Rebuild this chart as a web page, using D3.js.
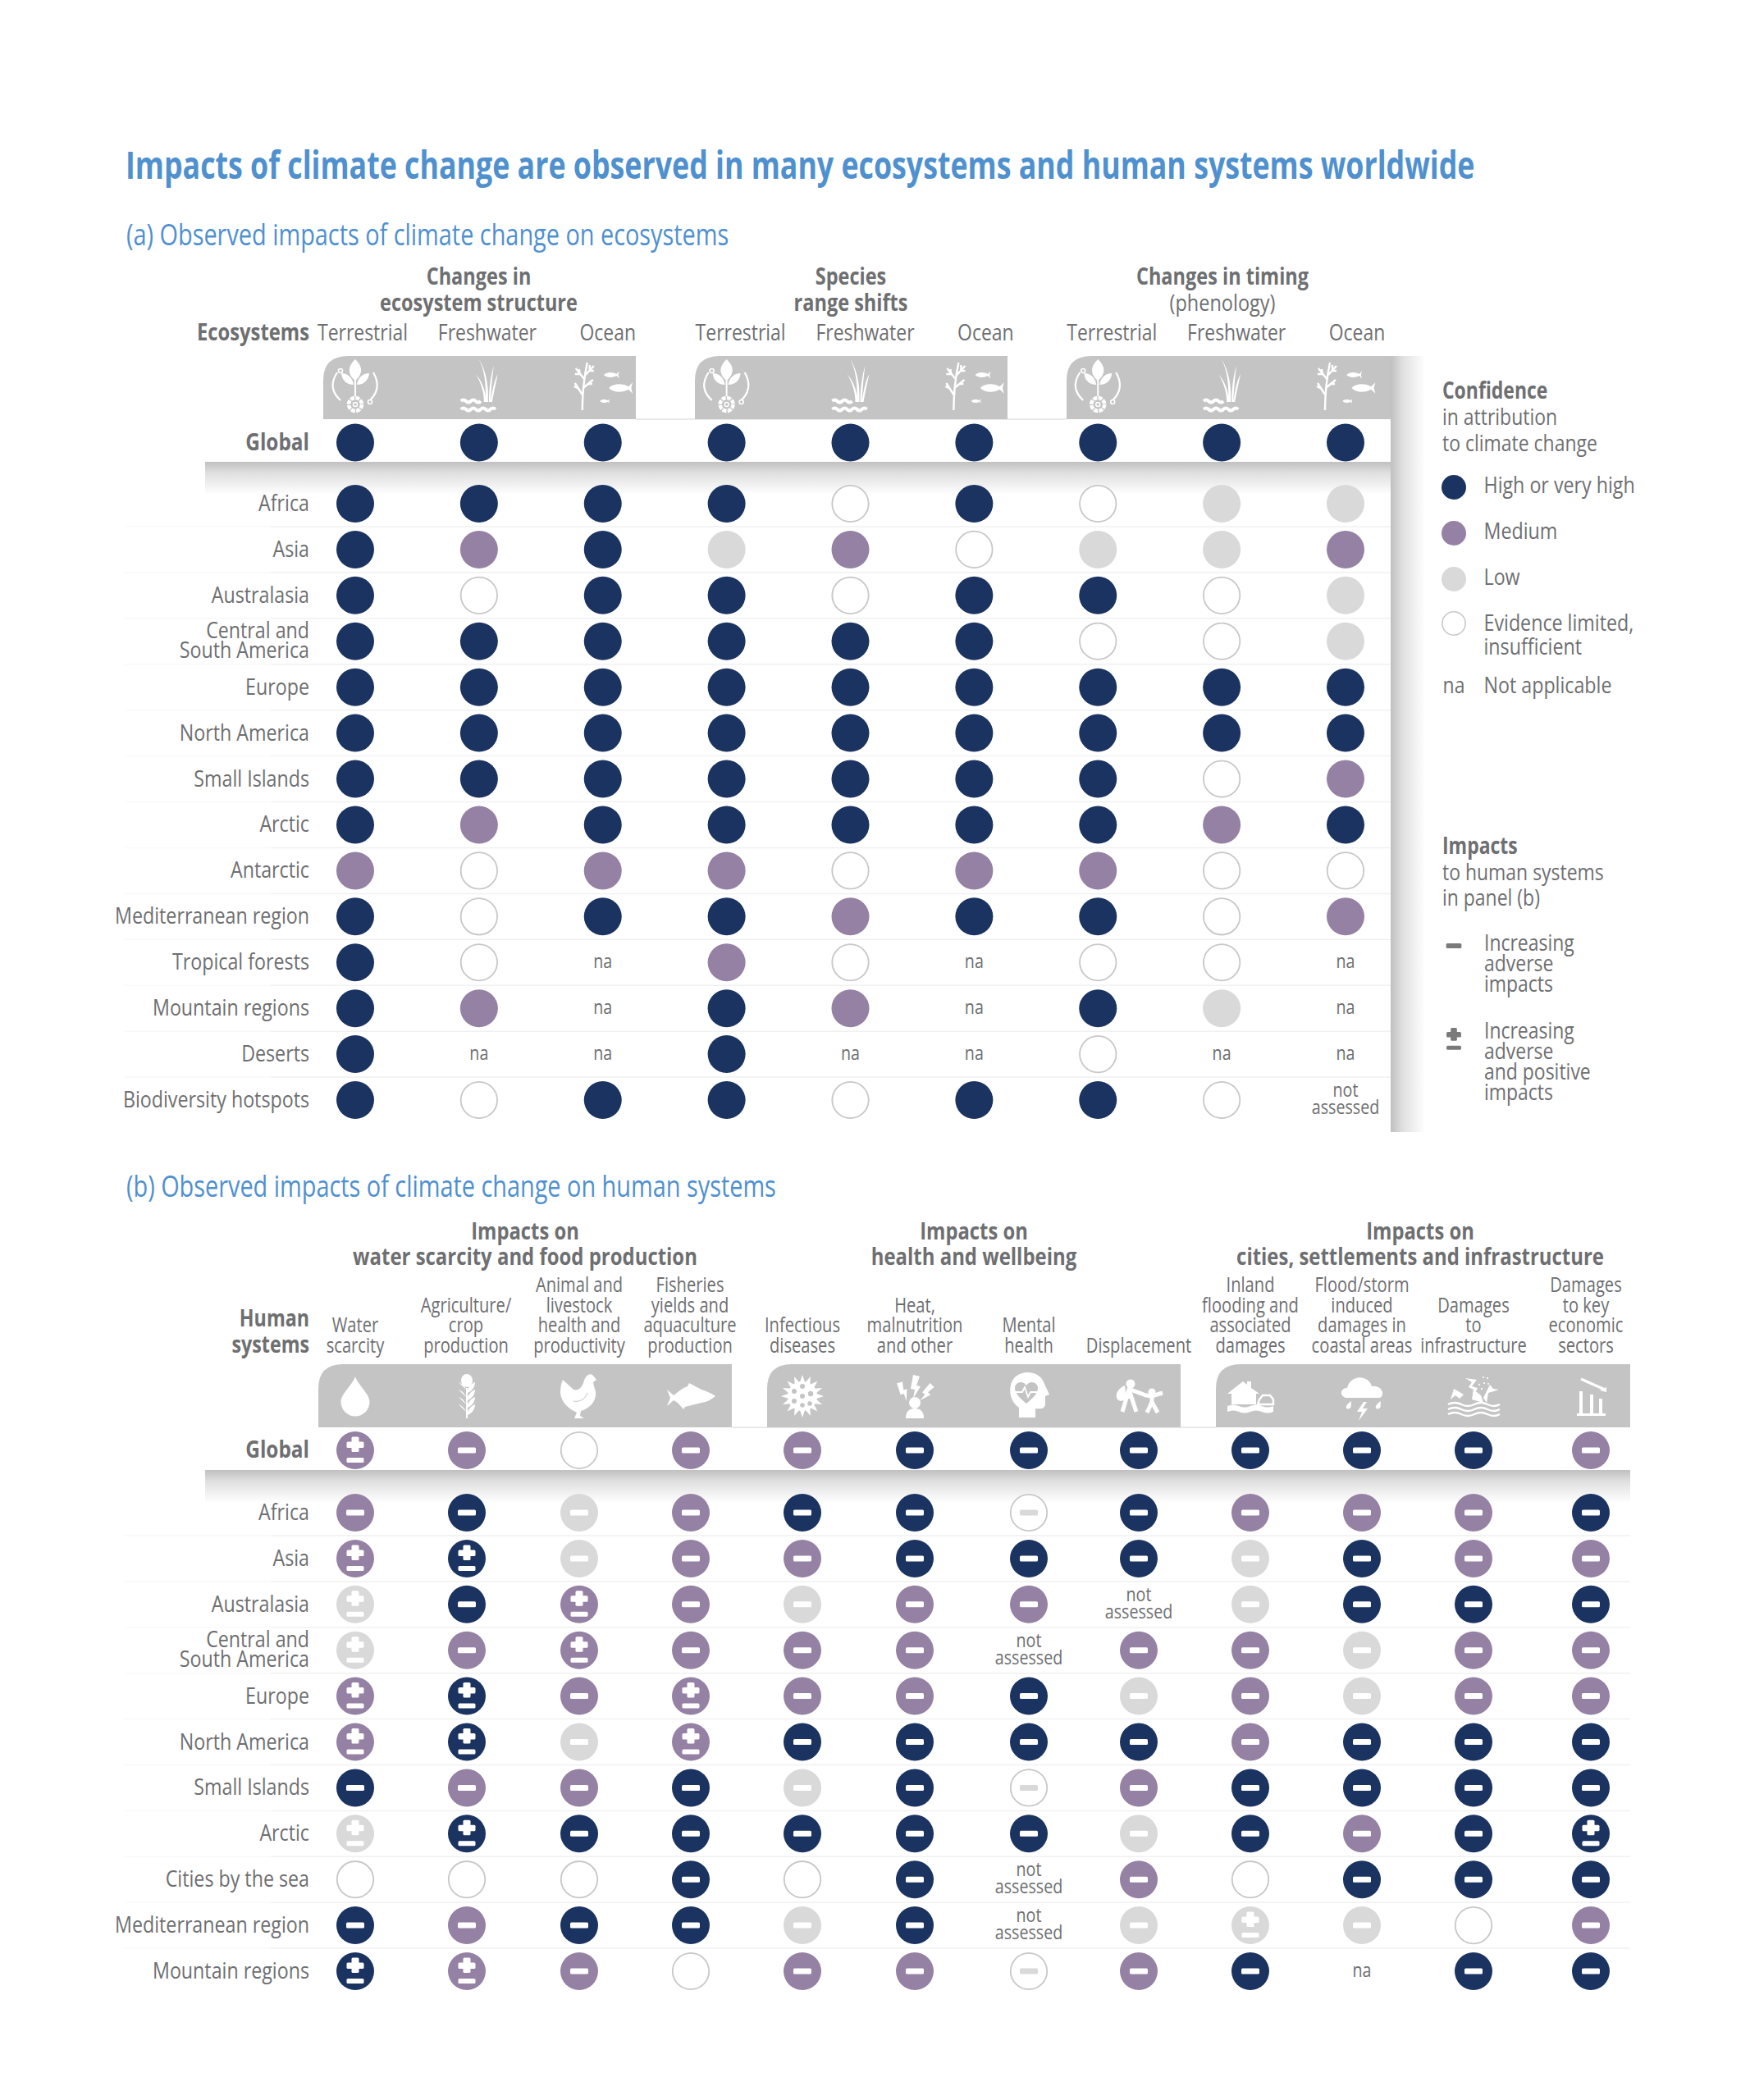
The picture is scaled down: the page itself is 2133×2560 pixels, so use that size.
<!DOCTYPE html>
<html><head><meta charset="utf-8">
<script src="https://cdn.jsdelivr.net/npm/d3@7"></script>
<style>html,body{margin:0;padding:0;background:#fff}svg{display:block}</style></head>
<body><div id="chart"></div>
<script>
// ---- DATA ----
const ecoRows=["Africa","Asia","Australasia","Central and|South America","Europe","North America","Small Islands","Arctic","Antarctic","Mediterranean region","Tropical forests","Mountain regions","Deserts","Biodiversity hotspots"];
const ecoCols=["Terrestrial","Freshwater","Ocean","Terrestrial ","Freshwater ","Ocean ","Terrestrial  ","Freshwater  ","Ocean  "];
const ecoGlobal=["H","H","H","H","H","H","H","H","H"];
const ecoValues=[
["H","H","H","H","E","H","E","L","L"],
["H","M","H","L","M","E","L","L","M"],
["H","E","H","H","E","H","H","E","L"],
["H","H","H","H","H","H","E","E","L"],
["H","H","H","H","H","H","H","H","H"],
["H","H","H","H","H","H","H","H","H"],
["H","H","H","H","H","H","H","E","M"],
["H","M","H","H","H","H","H","M","H"],
["M","E","M","M","E","M","M","E","E"],
["H","E","H","H","M","H","H","E","M"],
["H","E","na","M","E","na","E","E","na"],
["H","M","na","H","M","na","H","L","na"],
["H","na","na","H","na","na","E","na","na"],
["H","E","H","H","E","H","H","E","ns"]];
const humRows=["Africa","Asia","Australasia","Central and|South America","Europe","North America","Small Islands","Arctic","Cities by the sea","Mediterranean region","Mountain regions"];
const humCols=["Water|scarcity","Agriculture/|crop|production","Animal and|livestock|health and|productivity","Fisheries|yields and|aquaculture|production","Infectious|diseases","Heat,|malnutrition|and other","Mental|health","Displacement","Inland|flooding and|associated|damages","Flood/storm|induced|damages in|coastal areas","Damages|to|infrastructure","Damages|to key|economic|sectors"];
const humGlobal=["M+","M-","E","M-","M-","H-","H-","H-","H-","H-","H-","M-"];
const humValues=[
["M-","H-","L-","M-","H-","H-","E-","H-","M-","M-","M-","H-"],
["M+","H+","L-","M-","M-","H-","H-","H-","L-","H-","M-","M-"],
["L+","H-","M+","M-","L-","M-","M-","ns","L-","H-","H-","H-"],
["L+","M-","M+","M-","M-","M-","ns","M-","M-","L-","M-","M-"],
["M+","H+","M-","M+","M-","M-","H-","L-","M-","L-","M-","M-"],
["M+","H+","L-","M+","H-","H-","H-","H-","M-","H-","H-","H-"],
["H-","M-","M-","H-","L-","H-","E-","M-","H-","H-","H-","H-"],
["L+","H+","H-","H-","H-","H-","H-","L-","H-","M-","H-","H+"],
["E","E","E","H-","E","H-","ns","M-","E","H-","H-","H-"],
["H-","M-","H-","H-","L-","H-","ns","L-","L+","L-","E","M-"],
["H+","M+","M-","E","M-","M-","E-","M-","H-","na","H-","H-"]];
const legendConfidence=[["H","High or very high"],["M","Medium"],["L","Low"],["E","Evidence limited,|insufficient"]];

// ---- STYLE ----
const NAVY="#1b3360",PURPLE="#9581a4",LOW="#d9d9d9",BAND="#c4c4c4",TXT="#6e6f71",BLUE="#4f90cf";
const fillOf={H:NAVY,M:PURPLE,L:LOW,E:"#fff"};
const SX=0.82;
const W=2133,H=2560;
const svg=d3.select("#chart").append("svg").attr("width",W).attr("height",H).attr("viewBox",`0 0 ${W} ${H}`);
svg.append("rect").attr("width",W).attr("height",H).attr("fill","#fff");
const defs=svg.append("defs");
function grad(id,x2,y2){const g=defs.append("linearGradient").attr("id",id).attr("x1",0).attr("y1",0).attr("x2",x2).attr("y2",y2);
 g.append("stop").attr("offset",0).attr("stop-color","#c0c0c0");g.append("stop").attr("offset",0.35).attr("stop-color","#e0e0e0");g.append("stop").attr("offset",1).attr("stop-color","#fff");}
grad("sh",0,1);grad("sv",1,0);

function T(str,x,y,o={}){
 return svg.append("text").text(str).attr("transform",`translate(${x},${y}) scale(${o.sx||SX},1)`)
  .attr("text-anchor",o.a||"start").attr("font-family","'Open Sans','Noto Sans',sans-serif")
  .attr("font-size",o.s||28).attr("font-weight",o.b?700:400).attr("fill",o.f||TXT);
}
function ML(str,x,y,lh,o={}){str.split("|").forEach((s,i)=>T(s,x,y+i*lh,o));}

// ---- HEADINGS ----
T("Impacts of climate change are observed in many ecosystems and human systems worldwide",153,218,{s:46,b:1,f:BLUE,sx:0.777});
T("(a) Observed impacts of climate change on ecosystems",154,299,{s:37,f:BLUE,sx:0.78});
T("(b) Observed impacts of climate change on human systems",154,1459,{s:37,f:BLUE,sx:0.78});

// ---- SCALES ----
const xEco=d3.scalePoint().domain(d3.range(9)).range([433,1640]);
const yEco=d3.scalePoint().domain(ecoRows).range([614,1341]);
const xHum=d3.scaleOrdinal().domain(d3.range(12)).range([433,569,706,842,978,1115,1254,1388,1524,1660,1796,1939]);
const yHum=d3.scalePoint().domain(humRows).range([1844,2403]);
const Y_GLOBAL_A=539.5,Y_GLOBAL_B=1768,R=23;

// ---- BACKGROUND BANDS ----
function band(x0,x1,y0,y1,r){
 svg.append("path").attr("fill",BAND)
  .attr("d",`M${x0},${y1}V${y0+r}Q${x0},${y0} ${x0+r},${y0}H${x1}V${y1}Z`);
}
svg.append("rect").attr("x",1695).attr("y",434).attr("width",42).attr("height",946).attr("fill","url(#sv)");
svg.append("rect").attr("x",250).attr("y",563).attr("width",1445).attr("height",40).attr("fill","url(#sh)");
svg.append("rect").attr("x",775).attr("y",510).attr("width",525).attr("height",2).attr("fill","#e9e9e9");
[[394,775],[847,1228],[1300,1695]].forEach(b=>band(b[0],b[1],434,511,30));
svg.append("rect").attr("x",250).attr("y",1792).attr("width",1737).attr("height",40).attr("fill","url(#sh)");
svg.append("rect").attr("x",892).attr("y",1739).attr("width",590).attr("height",2).attr("fill","#e9e9e9");
[[388,892],[935,1439],[1482,1987]].forEach(b=>band(b[0],b[1],1663,1740,30));

// row rules: very faint at the far left, slightly stronger across the grid
function rules(rows,y,x1){
 const g=svg.append("g");
 g.selectAll(".l").data(rows.slice(0,-1)).join("line")
  .attr("x1",152).attr("x2",330).attr("y1",d=>y(d)+28).attr("y2",d=>y(d)+28)
  .attr("stroke","#f9f9f9").attr("stroke-width",1.5);
 g.selectAll(".r").data(rows.slice(0,-1)).join("line")
  .attr("x1",330).attr("x2",x1).attr("y1",d=>y(d)+28).attr("y2",d=>y(d)+28)
  .attr("stroke","#f1f1f1").attr("stroke-width",1.5);
}
rules(ecoRows,yEco,1695);rules(humRows,yHum,1987);

// ---- HEADER TEXT ----
const ecoGroups=[[583.5,"Changes in","ecosystem structure",1],[1037,"Species","range shifts",1],[1490,"Changes in timing","(phenology)",0]];
ecoGroups.forEach(g=>{T(g[1],g[0],347,{a:"middle",b:1,sx:.84});T(g[2],g[0],379,{a:"middle",b:g[3],sx:.84});});
const ecoLabelOffset=[9,10,6,17,18,14,17,18,14];
ecoCols.forEach((c,i)=>T(c.trim(),xEco(i)+ecoLabelOffset[i],415,{a:"middle"}));
T("Ecosystems",377,415,{a:"end",b:1,sx:.85});

const humGroups=[[640,"Impacts on","water scarcity and food production"],[1187,"Impacts on","health and wellbeing"],[1731,"Impacts on","cities, settlements and infrastructure"]];
humGroups.forEach(g=>{T(g[1],g[0],1518-7,{a:"middle",b:1,sx:.85});T(g[2],g[0],1550-8,{a:"middle",b:1,sx:.855});});
const humLabelOffset=[0,-1,0,-1,0,0,0,0,0,0,0,-6];
humCols.forEach((c,i)=>{const p=c.split("|");p.forEach((s,k)=>T(s,xHum(i)+humLabelOffset[i],1649-(p.length-1-k)*24.7,{a:"middle",s:26,sx:.775}));});
ML("Human|systems",377,1617,32,{a:"end",b:1,sx:.83});

// ---- ICONS ----
const ICON={
plant(g){
 g.append("path").attr("d","M0,-33C-10,-24 -9,-14 0,-7C9,-14 10,-24 0,-33Z M-17,-16C-16,-6 -9,-2 -2,-2C-3,-10 -9,-16 -17,-16Z M17,-16C16,-6 9,-2 2,-2C3,-10 9,-16 17,-16Z").attr("fill","#fff");
 g.append("path").attr("d","M0,-24V12").attr("stroke","#fff").attr("stroke-width",2).attr("fill","none");
 g.append("circle").attr("cx",0).attr("cy",22).attr("r",8).attr("fill","none").attr("stroke","#fff").attr("stroke-width",4.5).attr("stroke-dasharray","5 1.3");
 g.append("circle").attr("cx",0).attr("cy",22).attr("r",2.5).attr("fill","none").attr("stroke","#fff").attr("stroke-width",1.5);
 g.append("path").attr("d","M-22,-17C-30,-5 -30,6 -18,17 M22,-17C29,-5 29,6 18,17").attr("stroke","#fff").attr("stroke-width",2.2).attr("fill","none");
 g.selectAll(".e").data([[-18,-19],[18,19]]).join("circle").attr("cx",d=>d[0]).attr("cy",d=>d[1]).attr("r",2.5).attr("fill",BAND).attr("stroke","#fff").attr("stroke-width",1.6);
},
reed(g){
 g.append("path").attr("d","M8,19C9,-6 6,-20 0,-33C7,-21 12,-6 11,19Z M6,19C6,6 2,-5 -4,-15C3,-7 8,4 9,19Z M12,19C12,4 14,-13 18,-25C16,-12 15,4 14,19Z M14,19C16,6 18,-6 23,-15C21,-6 18,8 16,19Z").attr("fill","#fff");
 g.append("path").attr("d","M-22,18q3,-3 6,0t6,0t6,0t6,0 M-22,28q3,-3 6,0t6,0t6,0t6,0t6,0t6,0t6,0").attr("stroke","#fff").attr("stroke-width",4).attr("fill","none");
},
ocean(g){
 g.append("path").attr("d","M-25,29C-25,10 -24,-5 -19,-29 M-25,10L-34,-4 M-29,3L-35,0 M-24,2L-12,-8 M-18,-3L-13,-3 M-22,-8L-33,-22 M-27,-15L-34,-15 M-28,-15L-29,-21 M-21,-14L-11,-25 M-16,-19L-11,-19 M-16,-20L-16,-26").attr("stroke","#fff").attr("stroke-width",2.4).attr("fill","none");
 fish(g,10,-14,.55);fish(g,21,2,.85);fish(g,2,18,.35);
},
drop(g){g.append("path").attr("d","M0,-24C3,-14 17.5,-3 17.5,7A17.5,17.5 0 1 1 -17.5,7C-17.5,-3 -3,-14 0,-24Z").attr("fill","#fff");},
wheat(g){
 const leaf=(x,y,s)=>g.append("path").attr("d",`M${x},${y}c${s*2},-5 ${s*6},-8 ${s*9},-9c0,6 -${s*4},11 -${s*9},13Z`).attr("fill","#fff");
 g.append("ellipse").attr("cx",0).attr("cy",-19).attr("rx",7).attr("ry",8).attr("fill","#fff");
 [-8,1,10,19].forEach(y=>{leaf(-1,y,-1);leaf(1,y,1);});
 g.append("path").attr("d","M0,-10V27").attr("stroke","#fff").attr("stroke-width",2);
},
hen(g){
 g.append("path").attr("d","M-20,-20L-7,-8C0,-6 4,-12 6,-19C8,-26 14,-29 17,-25L21,-20L17,-17C18,-10 21,-6 20,-1C19,8 12,15 2,18L1,24L6,27H-6L-3,20C-12,16 -22,8 -23,-4C-23,-10 -22,-16 -20,-20Z").attr("fill","#fff");
 g.append("path").attr("d","M-7,6C0,8 8,3 10,-4").attr("stroke",BAND).attr("stroke-width",1).attr("fill","none");
},
fishBig(g){
 g.append("path").attr("d","M-29,-8L-21,-1C-15,-6 -10,-10 -4,-12L-2,-16L13,-8C20,-6 26,-3 30,0C25,4 20,7 13,8L-7,13L-9,16L-16,8L-21,5L-29,12L-25,2Z").attr("fill","#fff");
},
virus(g){
 const n=16;
 g.selectAll(".s").data(d3.range(n)).join("path").attr("fill","#fff")
  .attr("d",d=>{const a=d*2*Math.PI/n;const c=Math.cos(a),s=Math.sin(a);const r=17;
   return `M${r*c-3*s},${r*s+3*c}L${26*c},${26*s}L${r*c+3*s},${r*s-3*c}Z`;});
 g.append("circle").attr("r",18).attr("fill","#fff");
 g.selectAll(".h").data([[0,0,3],[0,-12,3],[10,-3,3.2],[-10,-6,3],[-10,6,3],[0,11,2.8],[9,9,2.8]]).join("circle")
  .attr("cx",d=>d[0]).attr("cy",d=>d[1]).attr("r",d=>d[2]).attr("fill",BAND);
},
heat(g){
 g.append("circle").attr("cy",8).attr("r",7).attr("fill","#fff");
 g.append("path").attr("d","M-11,27Q-11,15 0,15Q11,15 11,27Z").attr("fill","#fff");
 const b="M-2,-26L6,-24L2,-13L7,-12L-2,3L0,-8L-5,-9Z";
 g.append("path").attr("d",b).attr("fill","#fff");
 g.append("path").attr("d",b).attr("fill","#fff").attr("transform","translate(-10,3) rotate(-28) scale(.85)");
 g.append("path").attr("d",b).attr("fill","#fff").attr("transform","translate(9,4) rotate(30) scale(.85)");
},
head(g){
 g.append("path").attr("d","M-12,26L-12,14C-24,6 -26,-12 -18,-22C-8,-33 14,-31 19,-15L25,-2L20,0L20,10C20,15 14,16 8,15L8,26Z").attr("fill","#fff");
 g.append("path").attr("d","M-3,9C-10,3 -17,-3 -17,-10C-17,-17 -7,-20 -3,-13C1,-20 11,-17 11,-10C11,-3 4,3 -3,9Z").attr("fill",BAND);
 g.append("path").attr("d","M-17,-5H-8L-5,-11L-1,1L2,-5H11").attr("stroke","#fff").attr("stroke-width",1.8).attr("fill","none");
},
people(g){
 g.append("circle").attr("cx",-10).attr("cy",-15).attr("r",5.5).attr("fill","#fff");
 g.append("circle").attr("cx",16).attr("cy",-5).attr("r",4.5).attr("fill","#fff");
 g.append("path").attr("d","M-20,19L-12,-8L-3,19 M-11,-7L-11,3 M-10,-8L9,-1L16,0L29,-4 M16,0V8 M10,20L16,7L23,20").attr("stroke","#fff").attr("stroke-width",5).attr("fill","none");
 g.append("path").attr("d","M-17,-13C-24,-10 -30,-3 -26,4C-23,7 -17,6 -15,2Z").attr("fill","#fff");
},
flood(g){
 g.append("path").attr("d","M-28,-3L-9,-18L-4,-14V-18H1V-10L11,-3H7V10H-23V-3Z").attr("fill","#fff");
 g.append("path").attr("d","M9,10L11,4L15,-1H24L28,4L28,10Z").attr("fill","none").attr("stroke","#fff").attr("stroke-width",2.4);
 g.append("path").attr("d","M-28,12q7,-3 14,0t14,0t14,0t14,0V19q-7,3 -14,0t-14,0t-14,0t-14,0Z").attr("fill","#fff");
},
storm(g){
 g.append("path").attr("d","M-20,2C-28,-1 -26,-10 -18,-10C-16,-20 -6,-25 2,-22C8,-20 11,-16 12,-12C20,-13 26,-8 25,-2C24,2 22,2 20,2Z").attr("fill","#fff");
 g.append("path").attr("d","M2,7L-6,19L0,19L-4,30L7,15L1,15L6,7Z").attr("fill","#fff");
 g.selectAll(".d").data([[-17,12],[19,12]]).join("path").attr("fill","#fff").attr("d",d=>`M${d[0]+4},${d[1]-6}C${d[0]+3},${d[1]-2} ${d[0]+5},${d[1]+1} ${d[0]+2},${d[1]+3}C${d[0]-3},${d[1]+5} ${d[0]-5},${d[1]} ${d[0]+4},${d[1]-6}Z`);
},
wreck(g){
 g.append("path").attr("d","M-31,10q8,-4 16,0t16,0t16,0t15,0 M-31,16q8,-4 16,0t16,0t16,0t15,0 M-31,22q8,-4 16,0t16,0t16,0t15,0").attr("stroke","#fff").attr("stroke-width",2.4).attr("fill","none");
 g.append("path").attr("d","M-28,4L-24,-9L-17,-5L-12,-2L-17,3L-22,-1Z M-2,4L0,-8L9,-1L12,8Z").attr("fill","#fff");
 g.append("path").attr("d","M12,2L20,-14L24,-9L31,-8L18,-4L16,8Z").attr("fill","#fff");
 g.append("path").attr("d","M-10,-22L4,-20L-2,-12L5,-10L-1,2L0,-8L-6,-11L-2,-17Z").attr("fill","#fff");
 g.selectAll(".p").data([[12,-23],[17,-22],[13,-16],[7,-14],[18,-15],[10,-9]]).join("circle").attr("cx",d=>d[0]).attr("cy",d=>d[1]).attr("r",1.1).attr("fill","#fff");
},
econ(g){
 g.append("path").attr("d","M-12,-21L17,-8").attr("stroke","#fff").attr("stroke-width",3.2);
 g.append("path").attr("d","M19,-11L19,-5L11,-7Z").attr("fill","#fff");
 g.append("path").attr("d","M-14,-6H-10V22H-14Z M-1,-2H3V22H-1Z M10,3H14V22H10Z M-17,21H18V24H-17Z").attr("fill","#fff");
}};
function fish(g,x,y,s){
 g.append("path").attr("transform",`translate(${x},${y}) scale(${s})`).attr("d","M-16,0C-10,-7 4,-7 12,-2L18,-8L16,0L18,8L12,2C4,7 -10,7 -16,0Z").attr("fill","#fff");
}
const ecoIcons=["plant","reed","ocean"];
d3.range(9).forEach(i=>{const g=svg.append("g").attr("transform",`translate(${xEco(i)},471)`);ICON[ecoIcons[i%3]](g);});
const humIcons=["drop","wheat","hen","fishBig","virus","heat","head","people","flood","storm","wreck","econ"];
humIcons.forEach((n,i)=>{const g=svg.append("g").attr("transform",`translate(${xHum(i)},1702)`);ICON[n](g);});

// ---- CELLS ----
function glyph(g,x,y,kind,col,scale=1){
 const r=(a,b,w,h,c=1.5)=>g.append("rect").attr("x",x+a*scale).attr("y",y+b*scale).attr("width",w*scale).attr("height",h*scale).attr("rx",c).attr("fill",col);
 if(kind==="-")r(-11,-3.5,22,7);
 if(kind==="+"){r(-10.5,-10.5,21,7.5);r(-4.5,-16.5,9,18.5);r(-10.5,9,21,6);}
}
function cell(g,code,x,y){
 if(code==="na"){T("na",x,y+7,{a:"middle",s:24});return;}
 if(code==="ns"){T("not",x,y-4,{a:"middle",s:24});T("assessed",x,y+17,{a:"middle",s:24});return;}
 const lv=code[0],k=code[1];
 g.append("circle").attr("cx",x).attr("cy",y).attr("r",lv==="E"?R-0.8:R).attr("fill",fillOf[lv])
  .attr("stroke",lv==="E"?"#c8c8c8":"none").attr("stroke-width",lv==="E"?1.8:0);
 if(k)glyph(g,x,y,k,lv==="E"?LOW:"#fff");
}
function panel(rows,vals,global,x,y,yG){
 const g=svg.append("g");
 global.forEach((c,i)=>cell(g,c,x(i),yG));
 rows.forEach((r,ri)=>vals[ri].forEach((c,i)=>cell(g,c,x(i),y(r))));
 T("Global",377,yG+9,{a:"end",b:1,sx:.87});
 rows.forEach(r=>{const p=r.split("|");
  if(p.length===1)T(r,377,y(r)+9,{a:"end",sx:.83});
  else{T(p[0],377,y(r)-4,{a:"end",sx:.83});T(p[1],377,y(r)+20.5,{a:"end",sx:.83});}
 });
}
panel(ecoRows,ecoValues,ecoGlobal,xEco,yEco,Y_GLOBAL_A);
panel(humRows,humValues,humGlobal,xHum,yHum,Y_GLOBAL_B);

// ---- LEGEND ----
T("Confidence",1758,486,{b:1});T("in attribution",1758,518);T("to climate change",1758,550);
const legY=d3.scaleOrdinal().domain(["H","M","L","E"]).range([594,650,706,760]);
legendConfidence.forEach(([c,l])=>{
 svg.append("circle").attr("cx",1772).attr("cy",legY(c)).attr("r",c==="E"?14.2:15).attr("fill",fillOf[c]).attr("stroke",c==="E"?"#c8c8c8":"none").attr("stroke-width",c==="E"?1.6:0);
 ML(l,1808.5,legY(c)+(c==="E"?9:6.5),28.5,{sx:.83});
});
T("na",1772,845,{a:"middle"});T("Not applicable",1808.5,845,{sx:.83});
T("Impacts",1758,1041,{b:1});T("to human systems",1758,1073);T("in panel (b)",1758,1104);
glyph(svg,1772,1153,"-","#7a7a7a",.85);
ML("Increasing|adverse|impacts",1809,1159,25);
glyph(svg,1772,1267,"+","#7a7a7a",.85);
ML("Increasing|adverse|and positive|impacts",1809,1266,25);
</script></body></html>
